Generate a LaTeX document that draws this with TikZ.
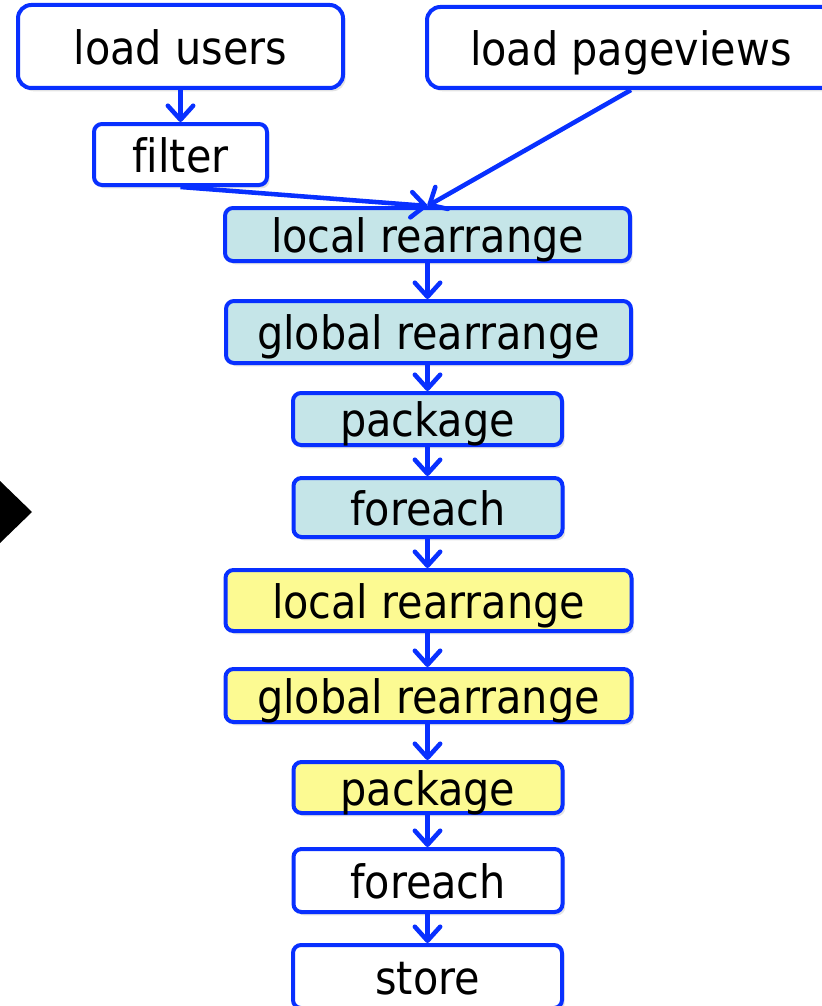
\documentclass[tikz,border=0pt]{standalone}
\usepackage{fontspec}
\setmainfont{DejaVu Sans Condensed}[Ligatures=NoCommon]
\usetikzlibrary{arrows.meta,shadows}
\definecolor{flowblue}{RGB}{8,48,255}
\definecolor{stagecyan}{RGB}{197,229,232}
\definecolor{stageyellow}{RGB}{252,250,146}
\begin{document}
\begin{tikzpicture}[x=0.75pt,y=-0.75pt,
  op/.style={draw=flowblue, line width=3pt, rounded corners=6pt, fill=white,
    inner sep=0pt, text height=26.5pt, text depth=0pt,
    font=\fontsize{34.5}{41}\selectfont,
    drop shadow={shadow xshift=2pt, shadow yshift=-2.5pt, opacity=0.22}},
  dims/.style 2 args={minimum width=#1*0.75pt, minimum height=#2*0.75pt},
  cyanop/.style={op, fill=stagecyan},
  yellowop/.style={op, fill=stageyellow},
  arr/.style={draw=flowblue, line width=3.4pt,
    -{Straight Barb[round, length=10.5pt, width=19pt]}}]
\useasboundingbox (0,0) rectangle (821,1006);

% inputs
\node[op, dims={325}{83}, rounded corners=10pt] (lu) at (180.5,46.5) {load users};
\node[op, dims={408}{81}, rounded corners=10pt] (pv) at (631,47.5) {load pageviews};
\node[op, dims={173}{61}] (flt) at (180.5,154.5) {filter};

% first job
\node[cyanop, dims={405}{53}] (lr1) at (427.5,234.5) {local rearrange};
\node[cyanop, dims={405}{62}] (gr1) at (428.5,332) {global rearrange};
\node[cyanop, dims={269}{52}] (pk1) at (427.5,419) {package};
\node[cyanop, dims={269}{59}] (fe1) at (428,507.5) {foreach};

% second job
\node[yellowop, dims={406}{61}] (lr2) at (428.5,600.5) {local rearrange};
\node[yellowop, dims={406}{53}] (gr2) at (428.5,695.5) {global rearrange};
\node[yellowop, dims={269}{51}] (pk2) at (428,787.5) {package};

% output
\node[op, dims={269}{63}] (fe2) at (428,880.5) {foreach};
\node[op, dims={269}{63}] (st) at (427.5,976.5) {store};

% data flow
\draw[arr] (lu.south) -- (lu.south |- flt.north);
\draw[arr] (flt.south) -- (lr1.north);
\draw[arr] (pv.south) -- (lr1.north);
\draw[arr] (lr1.south) -- (lr1.south |- gr1.north);
\draw[arr] (lr1.south |- gr1.south) -- (lr1.south |- pk1.north);
\draw[arr] (lr1.south |- pk1.south) -- (lr1.south |- fe1.north);
\draw[arr] (lr1.south |- fe1.south) -- (lr1.south |- lr2.north);
\draw[arr] (lr1.south |- lr2.south) -- (lr1.south |- gr2.north);
\draw[arr] (lr1.south |- gr2.south) -- (lr1.south |- pk2.north);
\draw[arr] (lr1.south |- pk2.south) -- (lr1.south |- fe2.north);
\draw[arr] (lr1.south |- fe2.south) -- (lr1.south |- st.north);

% marker at the left edge
\fill (-32,512) -- (0,481) -- (32,512) -- (0,543) -- cycle;
\end{tikzpicture}
\end{document}
